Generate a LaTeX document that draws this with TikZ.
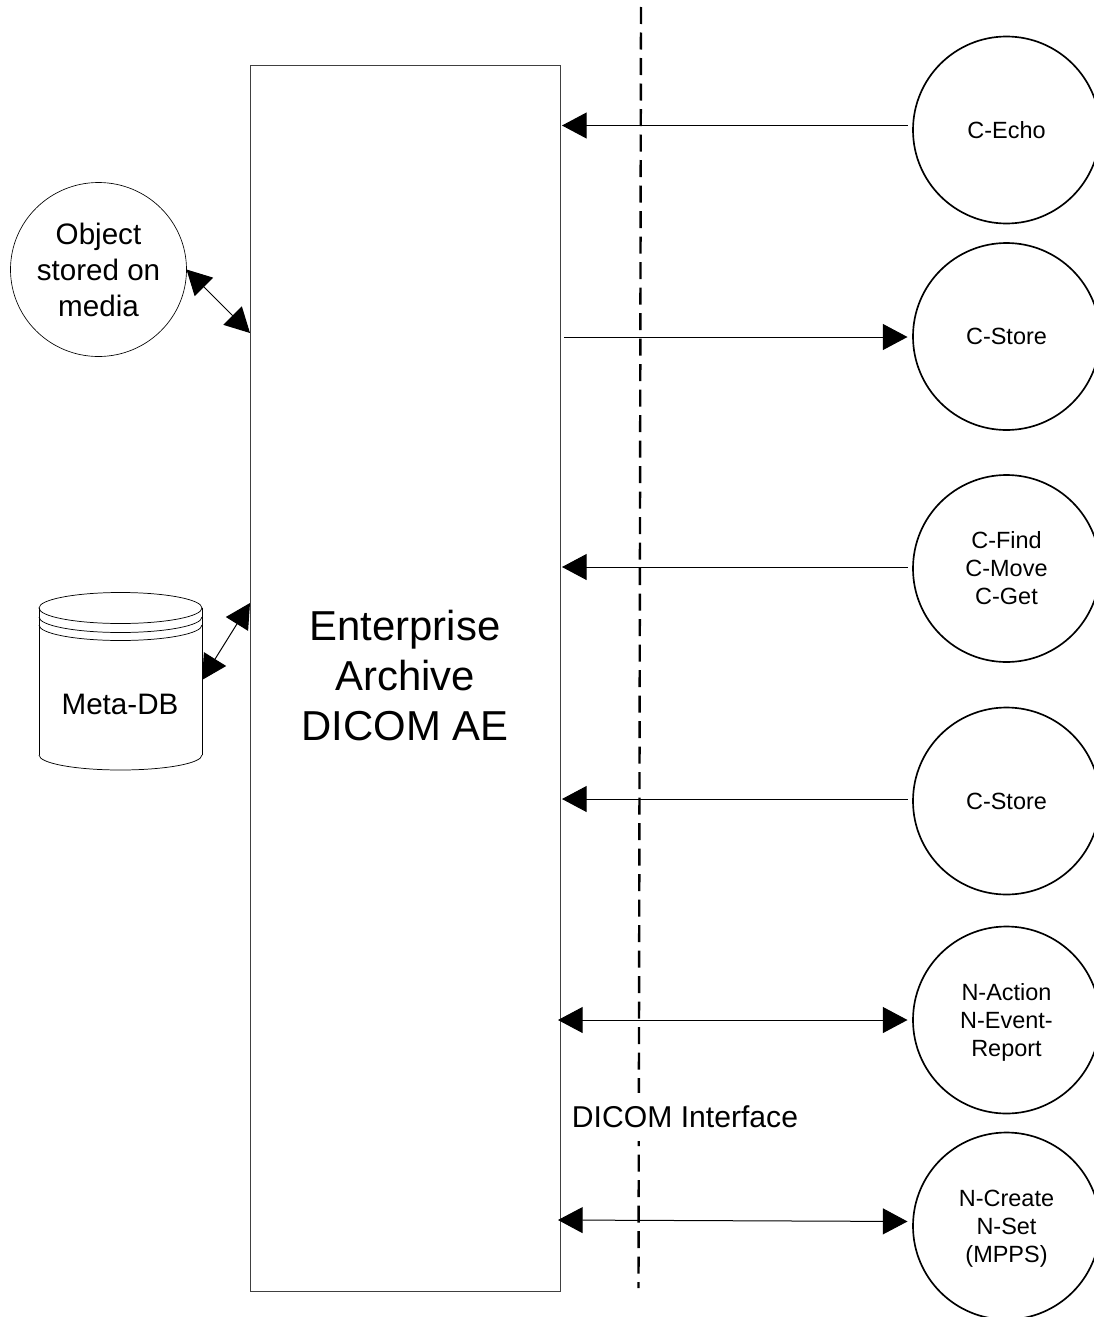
\documentclass[tikz,border=0pt]{standalone}
\usepackage{fontspec}
\setmainfont{Liberation Sans}
\usetikzlibrary{arrows.meta,shapes.geometric}
\tikzset{
  svc/.style={draw=black,line width=1.25pt,ellipse,minimum width=140.25pt,minimum height=140.25pt,inner sep=0pt,outer sep=0pt,align=center,font=\fontsize{17.6pt}{21pt}\selectfont},
  store/.style={draw=black,line width=0.5pt,ellipse,minimum width=132pt,minimum height=130.5pt,inner sep=0pt,outer sep=0pt,align=center,font=\fontsize{22.2pt}{27pt}\selectfont},
  archbox/.style={draw=black!75,line width=0.6pt,rectangle,minimum width=232.5pt,minimum height=919.5pt,inner sep=0pt,outer sep=0pt},
  archtext/.style={inner sep=0pt,outer sep=0pt,align=center,font=\fontsize{31.4pt}{37.7pt}\selectfont},
  dbbox/.style={rectangle,minimum width=122.25pt,minimum height=132.75pt,inner sep=0pt,outer sep=0pt},
  dbline/.style={draw=black,line width=0.55pt},
  dashline/.style={draw=black,line width=1.8pt,dash pattern=on 12.75pt off 6.375pt},
  flow/.style={draw=black,line width=0.75pt},
  tipL/.style={{Triangle[length=18.5pt,width=19.5pt]}-},
  tipR/.style={-{Triangle[length=18.5pt,width=19.5pt]}},
  tipB/.style={{Triangle[length=18.5pt,width=19.5pt]}-{Triangle[length=18.5pt,width=19.5pt]}},
  gapC/.style={shorten <=#1*0.75pt},
  gapE/.style={shorten >=#1*0.75pt}
}
\begin{document}
\begin{tikzpicture}[x=0.75pt,y=-0.75pt]
\useasboundingbox (0,0) rectangle (1094,1317);
\clip (0,0) rectangle (1094,1317);
% interface line and its label
\coordinate (ifTop) at (641,7);
\coordinate (ifBot) at (638.5,1288);
\draw[dashline] (ifTop) -- (ifBot);
\node[fill=white,inner sep=0pt,outer sep=0pt,minimum height=35.5pt,minimum width=168pt,font=\fontsize{22.6pt}{27pt}\selectfont] (iflabel) at (685,1117) {DICOM Interface};
% archive
\node[archbox] (arch) at (405,678) {};
\node[archtext] (archlabel) at (405,675.5) {Enterprise\\Archive\\DICOM AE};
% services
\node[svc] (echo) at (1006.5,130) {C-Echo};
\node[svc] (store1) at (1006.5,336.5) {C-Store};
\node[svc] (find) at (1006.5,568.5) {C-Find\\C-Move\\C-Get};
\node[svc] (store2) at (1006.5,801) {C-Store};
\node[svc] (action) at (1006.5,1020) {N-Action\\N-Event-\\\smash{Report}};
\node[svc] (create) at (1006.5,1226) {N-Create\\N-Set\\\smash{(MPPS)}};
% left side
\node[store] (obj) at (98.5,269.5) {Object\\stored on\\media};
\node[dbbox] (db) at (120.5,681.5) {};
\draw[dbline] (db.north west) ++(0,15) arc[start angle=180,end angle=540,x radius=81.5,y radius=15.5];
\draw[dbline] (db.north west) ++(0,15) -- ++(0,147);
\draw[dbline] (db.north east) ++(0,15) -- ++(0,147);
\draw[dbline] (db.north west) ++(0,24) arc[start angle=180,end angle=0,x radius=81.5,y radius=15.5];
\draw[dbline] (db.north west) ++(0,32) arc[start angle=180,end angle=0,x radius=81.5,y radius=15.5];
\draw[dbline] (db.south west) ++(0,-15) arc[start angle=180,end angle=0,x radius=81.5,y radius=15];
\node[inner sep=0pt,font=\fontsize{22.2pt}{27pt}\selectfont] (dblabel) at (120,704) {Meta-DB};
% connectors
\draw[flow,tipL,gapE=5.5,gapC=2] (arch.east |- 0,125.5) -- (echo.west |- 0,125.5);
\draw[flow,tipR,gapC=4,gapE=5.5] (arch.east |- 0,337) -- (store1.west |- 0,337);
\draw[flow,tipL,gapC=2,gapE=5.5] (arch.east |- 0,567) -- (find.west |- 0,567);
\draw[flow,tipL,gapC=2,gapE=5.5] (arch.east |- 0,799) -- (store2.west |- 0,799);
\draw[flow,tipB,gapC=-2,gapE=5.5] (arch.east |- 0,1020) -- (action.west |- 0,1020);
\draw[flow,tipB,gapC=-2,gapE=5.5] (arch.east |- 0,1220) -- (create.west |- 0,1221.5);
\draw[flow,tipB] (obj.east) -- (arch.west |- 0,333);
\draw[flow,tipB] (db.east |- 0,680) -- (arch.west |- 0,603);
\end{tikzpicture}
\end{document}
